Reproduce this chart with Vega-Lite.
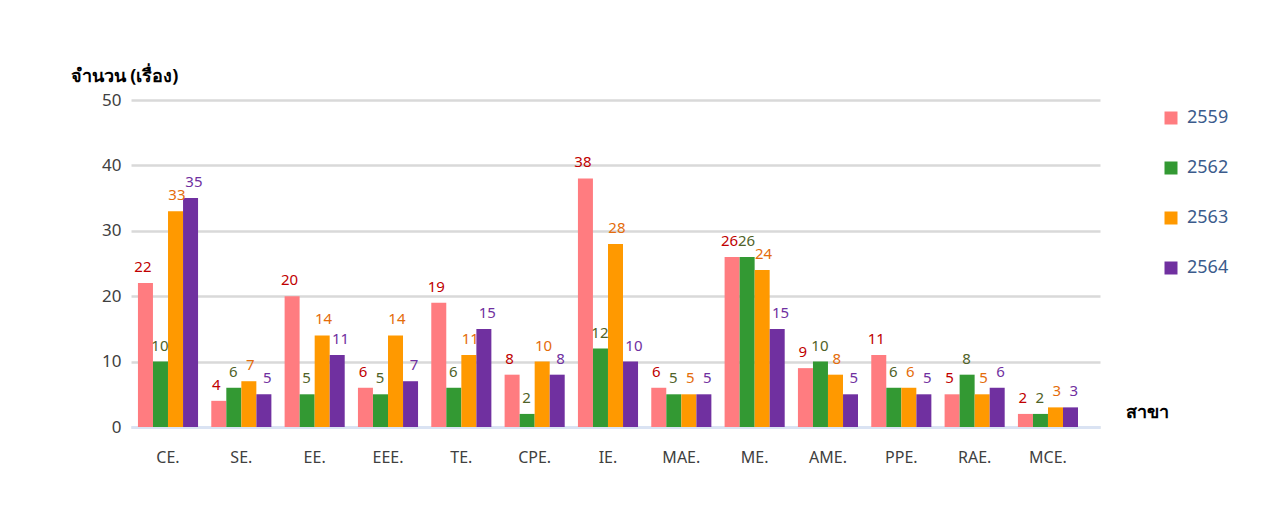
{
  "$schema": "https://vega.github.io/schema/vega-lite/v6.json",
  "autosize": "none",
  "width": 969,
  "height": 327,
  "padding": {"left": 131, "top": 100, "right": 167, "bottom": 87},
  "background": "white",
  "config": {
    "view": {"stroke": null},
    "font": "Noto Sans",
    "axis": {"labelFont": "Noto Sans", "titleFont": "Noto Sans"}
  },
  "data": {
    "values": [
      {"branch": "CE.", "year": "2559", "value": 22},
      {"branch": "CE.", "year": "2562", "value": 10},
      {"branch": "CE.", "year": "2563", "value": 33},
      {"branch": "CE.", "year": "2564", "value": 35},
      {"branch": "SE.", "year": "2559", "value": 4},
      {"branch": "SE.", "year": "2562", "value": 6},
      {"branch": "SE.", "year": "2563", "value": 7},
      {"branch": "SE.", "year": "2564", "value": 5},
      {"branch": "EE.", "year": "2559", "value": 20},
      {"branch": "EE.", "year": "2562", "value": 5},
      {"branch": "EE.", "year": "2563", "value": 14},
      {"branch": "EE.", "year": "2564", "value": 11},
      {"branch": "EEE.", "year": "2559", "value": 6},
      {"branch": "EEE.", "year": "2562", "value": 5},
      {"branch": "EEE.", "year": "2563", "value": 14},
      {"branch": "EEE.", "year": "2564", "value": 7},
      {"branch": "TE.", "year": "2559", "value": 19},
      {"branch": "TE.", "year": "2562", "value": 6},
      {"branch": "TE.", "year": "2563", "value": 11},
      {"branch": "TE.", "year": "2564", "value": 15},
      {"branch": "CPE.", "year": "2559", "value": 8},
      {"branch": "CPE.", "year": "2562", "value": 2},
      {"branch": "CPE.", "year": "2563", "value": 10},
      {"branch": "CPE.", "year": "2564", "value": 8},
      {"branch": "IE.", "year": "2559", "value": 38},
      {"branch": "IE.", "year": "2562", "value": 12},
      {"branch": "IE.", "year": "2563", "value": 28},
      {"branch": "IE.", "year": "2564", "value": 10},
      {"branch": "MAE.", "year": "2559", "value": 6},
      {"branch": "MAE.", "year": "2562", "value": 5},
      {"branch": "MAE.", "year": "2563", "value": 5},
      {"branch": "MAE.", "year": "2564", "value": 5},
      {"branch": "ME.", "year": "2559", "value": 26},
      {"branch": "ME.", "year": "2562", "value": 26},
      {"branch": "ME.", "year": "2563", "value": 24},
      {"branch": "ME.", "year": "2564", "value": 15},
      {"branch": "AME.", "year": "2559", "value": 9},
      {"branch": "AME.", "year": "2562", "value": 10},
      {"branch": "AME.", "year": "2563", "value": 8},
      {"branch": "AME.", "year": "2564", "value": 5},
      {"branch": "PPE.", "year": "2559", "value": 11},
      {"branch": "PPE.", "year": "2562", "value": 6},
      {"branch": "PPE.", "year": "2563", "value": 6},
      {"branch": "PPE.", "year": "2564", "value": 5},
      {"branch": "RAE.", "year": "2559", "value": 5},
      {"branch": "RAE.", "year": "2562", "value": 8},
      {"branch": "RAE.", "year": "2563", "value": 5},
      {"branch": "RAE.", "year": "2564", "value": 6},
      {"branch": "MCE.", "year": "2559", "value": 2},
      {"branch": "MCE.", "year": "2562", "value": 2},
      {"branch": "MCE.", "year": "2563", "value": 3},
      {"branch": "MCE.", "year": "2564", "value": 3}
    ]
  },
  "encoding": {
    "x": {
      "field": "branch",
      "type": "nominal",
      "sort": null,
      "scale": {"paddingInner": 0.18, "paddingOuter": 0.197, "align": 0.24},
      "axis": {
        "title": "สาขา",
        "titleAngle": 0,
        "titleX": 994,
        "titleY": -15,
        "titleAlign": "left",
        "titleBaseline": "middle",
        "titleFontSize": 18,
        "titleFontWeight": "bold",
        "titleColor": "#000000",
        "labelAngle": 0,
        "labelFontSize": 16,
        "labelColor": "#404040",
        "labelPadding": 22,
        "ticks": false,
        "domainColor": "#dae3f3",
        "domainWidth": 3
      }
    },
    "y": {
      "field": "value",
      "type": "quantitative",
      "scale": {"domain": [0, 50], "nice": false},
      "axis": {
        "title": "จำนวน (เรื่อง)",
        "titleAngle": 0,
        "titleX": -61,
        "titleY": -24,
        "titleAlign": "left",
        "titleBaseline": "middle",
        "titleFontSize": 18,
        "titleFontWeight": "bold",
        "titleColor": "#000000",
        "values": [0, 10, 20, 30, 40, 50],
        "labelFontSize": 17,
        "labelColor": "#404040",
        "labelPadding": 10,
        "ticks": false,
        "domain": false,
        "gridColor": "#d9d9d9",
        "gridWidth": 2.5
      }
    }
  },
  "layer": [
    {
      "mark": {"type": "bar", "width": 15},
      "encoding": {
        "xOffset": {"field": "year", "type": "nominal", "scale": {"paddingInner": 0, "paddingOuter": 0}},
        "color": {
          "field": "year",
          "type": "nominal",
          "scale": {"domain": ["2559", "2562", "2563", "2564"], "range": ["#ff7c80", "#339933", "#ff9900", "#7030a0"]},
          "legend": {
            "title": null,
            "orient": "none",
            "legendX": 1031,
            "legendY": 9,
            "symbolType": "square",
            "symbolSize": 169,
            "symbolStrokeWidth": 0,
            "labelFontSize": 18,
            "labelColor": "#3b5b8c",
            "labelOffset": 7,
            "rowPadding": 32
          }
        }
      }
    },
    {
      "mark": {"type": "text", "baseline": "bottom", "dy": -8, "fontSize": 15},
      "encoding": {
        "xOffset": {"field": "year", "type": "nominal", "scale": {"range": [5, 56], "paddingInner": 0, "paddingOuter": 0}},
        "text": {"field": "value", "type": "quantitative"},
        "color": {
          "field": "year",
          "type": "nominal",
          "scale": {"domain": ["2559", "2562", "2563", "2564"], "range": ["#c00000", "#4f6228", "#e46c0a", "#7030a0"]},
          "legend": null
        }
      }
    }
  ],
  "resolve": {"scale": {"color": "independent", "xOffset": "independent"}}
}
